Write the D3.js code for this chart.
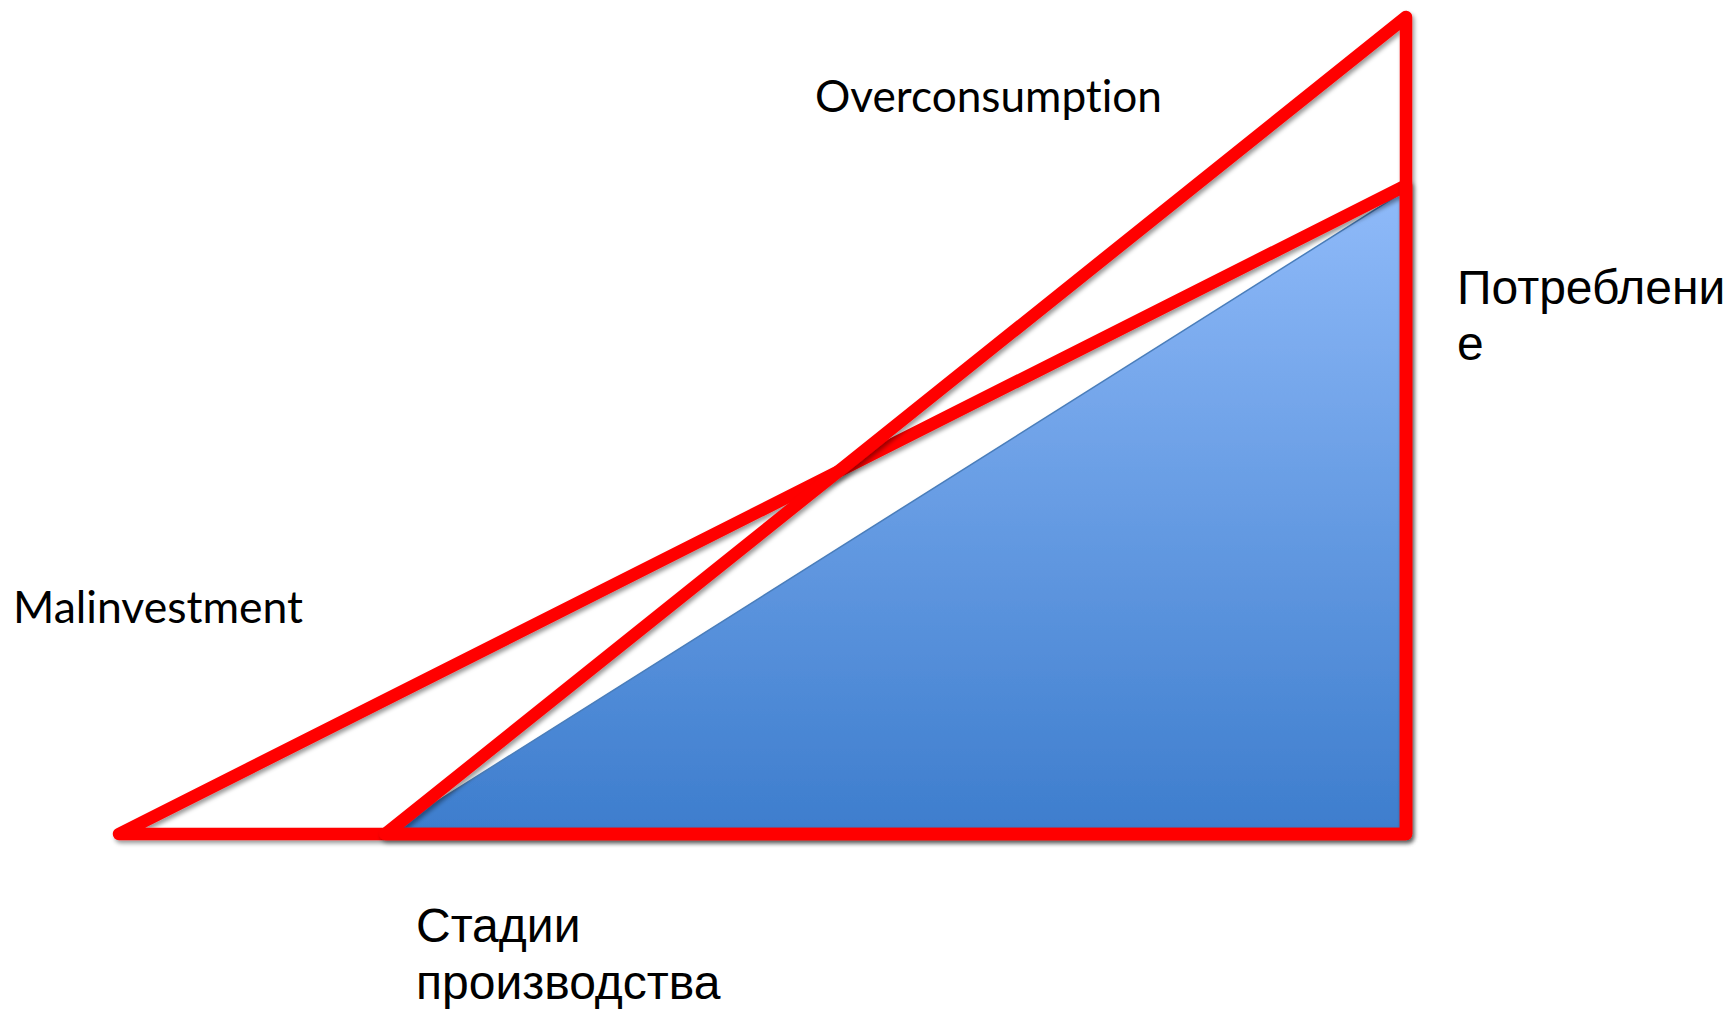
<!DOCTYPE html>
<html>
<head>
<meta charset="utf-8">
<script src="https://cdn.jsdelivr.net/npm/d3@7"></script>
<style>
  html, body { margin: 0; padding: 0; background: #fff; }
  svg { display: block; }
  text { font-variant-ligatures: none; }
</style>
</head>
<body>
<div id="viz"></div>
<script>
// stages of production run 0..10 on x, output value 0..10 on y
var stageStart = [0, 2.07, 2.07];         // where each triangle starts
var stageEnd = [10, 10, 10];              // consumption stage
var topValue = [7.94, 10, 7.88];          // height at consumption stage
var shapeNames = ["Malinvestment", "Overconsumption", "Base"];

var labelsLatin = ["Overconsumption", "Malinvestment"];
var labelConsumption = ["Потреблени", "е"];
var labelStages = ["Стадии", "производства"];

var width = 1731, height = 1011;

var x = d3.scaleLinear().domain([0, 10]).range([119, 1406]);
var y = d3.scaleLinear().domain([0, 10]).range([834, 17]);

var svg = d3.select("#viz")
  .append("svg")
  .attr("width", width)
  .attr("height", height);

var defs = svg.append("defs");

var grad = defs.append("linearGradient")
  .attr("id", "blueFill")
  .attr("x1", 0).attr("y1", 0).attr("x2", 0).attr("y2", 1);
grad.append("stop").attr("offset", "0%").attr("stop-color", "#8fbaf9");
grad.append("stop").attr("offset", "100%").attr("stop-color", "#3d7dcd");

var shadow = defs.append("filter")
  .attr("id", "shadow")
  .attr("x", "-10%").attr("y", "-10%")
  .attr("width", "120%").attr("height", "120%");
shadow.append("feDropShadow")
  .attr("dx", 2).attr("dy", 3)
  .attr("stdDeviation", 2)
  .attr("flood-color", "#000")
  .attr("flood-opacity", 0.4);

function tri(i) {
  return [
    [x(stageStart[i]), y(0)],
    [x(stageEnd[i]), y(topValue[i])],
    [x(stageEnd[i]), y(0)]
  ];
}
var line = d3.line().curve(d3.curveLinearClosed);

// blue base triangle
svg.append("path")
  .attr("d", line(tri(2)))
  .attr("fill", "url(#blueFill)")
  .attr("stroke", "#4a7ebb")
  .attr("stroke-width", 1.5)
  .attr("filter", "url(#shadow)");

// red outlines
svg.selectAll("path.red")
  .data([0, 1])
  .enter()
  .append("path")
  .attr("class", "red")
  .attr("d", function(i) { return line(tri(i)); })
  .attr("fill", "none")
  .attr("stroke", "#ff0000")
  .attr("stroke-width", 12.5)
  .attr("stroke-linejoin", "round")
  .attr("filter", "url(#shadow)");

// labels
var latin = "Lato, 'Open Sans', sans-serif";
svg.append("text")
  .attr("x", 815).attr("y", 112)
  .attr("font-family", latin).attr("font-size", 44)
  .attr("textLength", 347).attr("lengthAdjust", "spacingAndGlyphs")
  .text(labelsLatin[0]);
svg.append("text")
  .attr("x", 13).attr("y", 623)
  .attr("font-family", latin).attr("font-size", 44)
  .attr("textLength", 290).attr("lengthAdjust", "spacingAndGlyphs")
  .text(labelsLatin[1]);

var cyr = "'Liberation Sans', Arial, sans-serif";
svg.selectAll("text.cons")
  .data(labelConsumption)
  .enter()
  .append("text")
  .attr("class", "cons")
  .attr("x", 1457)
  .attr("y", function(d, i) { return 304 + i * 56; })
  .attr("font-family", cyr).attr("font-size", 48)
  .text(function(d) { return d; });

svg.selectAll("text.stages")
  .data(labelStages)
  .enter()
  .append("text")
  .attr("class", "stages")
  .attr("x", 416)
  .attr("y", function(d, i) { return 942 + i * 57; })
  .attr("font-family", cyr).attr("font-size", 48)
  .text(function(d) { return d; });
</script>
</body>
</html>
